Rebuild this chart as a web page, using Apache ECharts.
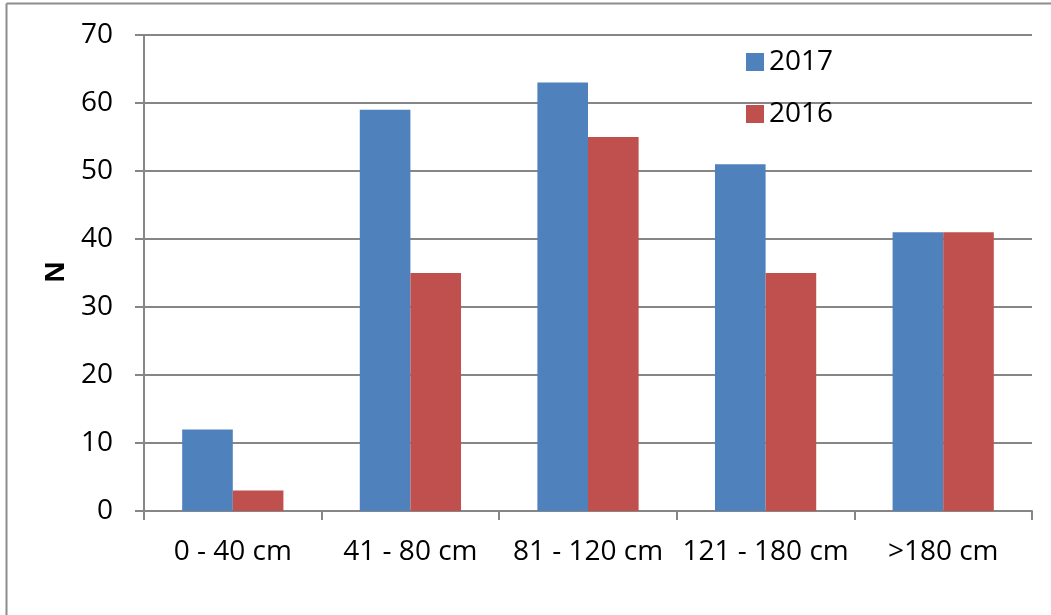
<!DOCTYPE html>
<html>
<head>
<meta charset="utf-8">
<script src="https://cdn.jsdelivr.net/npm/echarts@6/dist/echarts.min.js"></script>
<style>
html,body{margin:0;padding:0;background:#fff;}
#chart{width:1051px;height:615px;}
</style>
</head>
<body>
<div id="chart"></div>
<script>
const categories = ['0 - 40 cm', '41 - 80 cm', '81 - 120 cm', '121 - 180 cm', '>180 cm'];
const values2017 = [12, 59, 63, 51, 41];
const values2016 = [3, 35, 55, 35, 41];
const yTicks = [0, 10, 20, 30, 40, 50, 60, 70];

const chart = echarts.init(document.getElementById('chart'), null, {renderer: 'canvas'});
const font = 'Open Sans';
chart.setOption({
  animation: false,
  backgroundColor: '#fff',
  graphic: [
    {type: 'line', shape: {x1: 6.5, y1: 3.5, x2: 1051, y2: 3.5}, style: {stroke: '#8c8c8c', lineWidth: 2}},
    {type: 'line', shape: {x1: 6.5, y1: 3.5, x2: 6.5, y2: 615}, style: {stroke: '#8c8c8c', lineWidth: 2}},
    {type: 'text', x: 56, y: 272, rotation: Math.PI / 2,
     style: {text: 'N', font: 'bold 27px ' + font, fill: '#000', textAlign: 'center', textVerticalAlign: 'middle'}}
  ],
  grid: {left: 144, right: 19, top: 35, bottom: 104, containLabel: false},
  legend: {
    orient: 'vertical',
    left: 741,
    top: 40,
    itemWidth: 18,
    itemHeight: 18,
    itemGap: 18,
    icon: 'rect',
    textStyle: {fontFamily: font, fontSize: 28, lineHeight: 34, color: '#000', padding: [0, 0, 0, 0]},
    data: ['2017', '2016']
  },
  xAxis: {
    type: 'category',
    data: categories,
    axisLine: {lineStyle: {color: '#868686', width: 2}},
    axisTick: {show: true, length: 9, lineStyle: {color: '#868686', width: 2}, alignWithLabel: false},
    axisLabel: {fontFamily: font, fontSize: 28, color: '#000', margin: 27, interval: 0}
  },
  yAxis: {
    type: 'value',
    min: 0,
    max: 70,
    interval: 10,
    axisLine: {show: true, lineStyle: {color: '#868686', width: 2}},
    axisTick: {show: true, length: 9, lineStyle: {color: '#868686', width: 2}},
    splitLine: {show: true, lineStyle: {color: '#868686', width: 2}},
    axisLabel: {fontFamily: font, fontSize: 28, color: '#000', margin: 31,
      formatter: v => yTicks.includes(v) ? String(v) : ''}
  },
  series: [
    {name: '2017', type: 'bar', data: values2017, barGap: '0%', barCategoryGap: '43%',
     itemStyle: {color: '#4F81BD'}},
    {name: '2016', type: 'bar', data: values2016, barGap: '0%', barCategoryGap: '43%',
     itemStyle: {color: '#C0504D'}}
  ]
});
</script>
</body>
</html>
